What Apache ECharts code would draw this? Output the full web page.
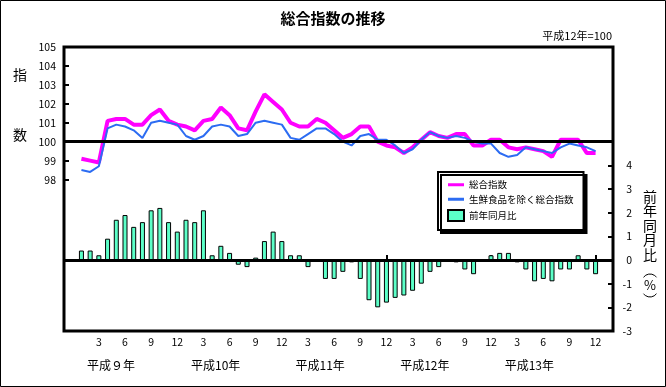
<!DOCTYPE html>
<html><head><meta charset="utf-8">
<script src="https://cdn.jsdelivr.net/npm/echarts@6/dist/echarts.min.js"></script>
<style>html,body{margin:0;padding:0;background:#fff}#c{width:666px;height:387px}</style>
</head><body><div id="c"></div>
<script>
// ---- data ----
const yearLabels = ['平成９年', '平成10年', '平成11年', '平成12年', '平成13年'];
const monthNums = [1, 2, 3, 4, 5, 6, 7, 8, 9, 10, 11, 12];
// 総合指数 (平成12年=100), 平成9年1月〜平成13年12月
const sogo = [
  99.1, 99.0, 98.9, 101.1, 101.2, 101.2, 100.9, 100.9, 101.4, 101.7, 101.1, 100.9,
  100.8, 100.6, 101.1, 101.2, 101.8, 101.4, 100.7, 100.6, 101.6, 102.5, 102.1, 101.7,
  101.0, 100.8, 100.8, 101.2, 101.0, 100.6, 100.2, 100.4, 100.8, 100.8, 100.0, 99.8,
  99.7, 99.4, 99.7, 100.1, 100.5, 100.3, 100.2, 100.4, 100.4, 99.8, 99.8, 100.1,
  100.1, 99.7, 99.6, 99.7, 99.6, 99.5, 99.2, 100.1, 100.1, 100.1, 99.4, 99.4
];
// 生鮮食品を除く総合指数
const exFresh = [
  98.5, 98.4, 98.7, 100.7, 100.9, 100.8, 100.6, 100.2, 101.0, 101.1, 101.0, 100.9,
  100.3, 100.1, 100.3, 100.8, 100.9, 100.8, 100.3, 100.4, 101.0, 101.1, 101.0, 100.9,
  100.2, 100.1, 100.4, 100.7, 100.7, 100.4, 100.0, 99.8, 100.3, 100.4, 100.1, 100.1,
  99.8, 99.4, 99.6, 100.1, 100.5, 100.3, 100.2, 100.3, 100.2, 100.0, 99.9, 99.9,
  99.4, 99.2, 99.3, 99.7, 99.6, 99.5, 99.4, 99.7, 99.9, 99.8, 99.7, 99.5
];
// 前年同月比 (%)
const yoy = [
  0.4, 0.4, 0.2, 0.9, 1.7, 1.9, 1.4, 1.6, 2.1, 2.2, 1.6, 1.2,
  1.7, 1.6, 2.1, 0.2, 0.6, 0.3, -0.2, -0.3, 0.1, 0.8, 1.2, 0.8,
  0.2, 0.2, -0.3, 0.0, -0.8, -0.8, -0.5, -0.1, -0.8, -1.7, -2.0, -1.8,
  -1.6, -1.5, -1.3, -1.0, -0.5, -0.3, 0.0, -0.1, -0.4, -0.6, 0.0, 0.2,
  0.3, 0.3, -0.1, -0.4, -0.9, -0.8, -0.9, -0.4, -0.4, 0.2, -0.4, -0.6
];
const leftTickValues = [98, 99, 100, 101, 102, 103, 104, 105];
const rightTickValues = [-3, -2, -1, 0, 1, 2, 3, 4];
const labelMonths = [3, 6, 9, 12];
const yearLabelMonth = 4;
const PAD = 2; // empty slots each side of the time axis

// ---- build category axis ----
const cats = [], catMonth = [], catYear = [];
for (let p = 0; p < PAD; p++) { cats.push('s' + p); catMonth.push(0); catYear.push(-1); }
yearLabels.forEach((y, yi) => monthNums.forEach(m => { cats.push(yi + '-' + m); catMonth.push(m); catYear.push(yi); }));
for (let p = 0; p < PAD; p++) { cats.push('e' + p); catMonth.push(0); catYear.push(-1); }
const padArr = arr => Array(PAD).fill(null).concat(arr, Array(PAD).fill(null));

const FONT = '"Noto Sans CJK JP", sans-serif';
const LINE_ICON = 'path://M0,0L16,0L16,3L0,3Z';
const chart = echarts.init(document.getElementById('c'), null, { renderer: 'canvas' });
chart.setOption({
  animation: false,
  backgroundColor: '#fff',
  title: {
    text: '総合指数の推移', left: 'center', top: 6,
    textStyle: { fontSize: 15, fontWeight: 'bold', color: '#000', fontFamily: FONT }
  },
  grid: { left: 64, right: 53, top: 47, bottom: 56, show: true, borderColor: '#000', borderWidth: 3, backgroundColor: 'transparent' },
  legend: {
    orient: 'vertical', left: 438, top: 172,
    itemWidth: 16, itemHeight: 11, itemGap: 5,
    padding: [8, 10, 8, 9],
    backgroundColor: '#fff', borderColor: '#000', borderWidth: 2,
    shadowColor: '#000', shadowOffsetX: 3, shadowOffsetY: 3, shadowBlur: 0,
    textStyle: { fontSize: 9.5, color: '#000', fontFamily: FONT },
    data: [
      { name: '総合指数', icon: LINE_ICON, itemStyle: { color: '#FF00FF' } },
      { name: '生鮮食品を除く総合指数', icon: LINE_ICON, itemStyle: { color: '#2C6CF2' } },
      { name: '前年同月比', icon: 'rect' }
    ]
  },
  xAxis: [{
    type: 'category', data: cats, boundaryGap: false, position: 'bottom',
    axisLine: { show: false },
    axisTick: {
      show: true, inside: true, length: 5, lineStyle: { color: '#000', width: 2 },
      interval: (i) => catMonth[i] === 12
    },
    axisLabel: {
      interval: (i) => labelMonths.indexOf(catMonth[i]) >= 0,
      formatter: (v, i) => String(catMonth[i]),
      margin: 6, fontSize: 10.5, color: '#000', fontFamily: FONT
    },
    splitLine: { show: false }
  }, {
    type: 'category', data: cats, boundaryGap: false, position: 'bottom',
    axisLine: { show: false }, axisTick: { show: false },
    axisLabel: {
      interval: (i) => catMonth[i] === yearLabelMonth,
      formatter: (v, i) => yearLabels[catYear[i]] || '',
      margin: 28, padding: [0, 0, 0, 7], fontSize: 12, color: '#000', fontFamily: FONT
    },
    splitLine: { show: false }
  }],
  yAxis: [{
    type: 'value', min: 90, max: 105, interval: 1, position: 'left',
    axisLine: { show: false },
    axisTick: { show: true, inside: true, length: 5, customValues: leftTickValues, lineStyle: { color: '#000', width: 2 } },
    axisLabel: { customValues: leftTickValues, margin: 8, fontSize: 10.5, color: '#000', fontFamily: FONT },
    splitLine: { show: false }
  }, {
    type: 'value', min: -3, max: 9, interval: 1, position: 'right',
    axisLine: { show: false },
    axisTick: { show: true, inside: true, length: 5, customValues: rightTickValues, lineStyle: { color: '#000', width: 2 } },
    axisLabel: { customValues: rightTickValues, margin: 19, align: 'right', fontSize: 10.5, color: '#000', fontFamily: FONT },
    splitLine: { show: false }
  }],
  series: [{
    name: '前年同月比', type: 'bar', xAxisIndex: 0, yAxisIndex: 1,
    data: padArr(yoy), barWidth: 5,
    itemStyle: { color: '#5CFFC8', borderColor: '#000', borderWidth: 1 },
    markLine: {
      silent: true, symbol: 'none', label: { show: false },
      lineStyle: { color: '#000', width: 3, type: 'solid' },
      data: [{ yAxis: 0 }]
    }
  }, {
    name: '総合指数', type: 'line', xAxisIndex: 0, yAxisIndex: 0,
    data: padArr(sogo), symbol: 'none', connectNulls: false,
    lineStyle: { color: '#FF00FF', width: 4 }, itemStyle: { color: '#FF00FF' }
  }, {
    name: '生鮮食品を除く総合指数', type: 'line', xAxisIndex: 0, yAxisIndex: 0,
    data: padArr(exFresh), symbol: 'none',
    lineStyle: { color: '#2C6CF2', width: 2 }, itemStyle: { color: '#2C6CF2' },
    markLine: {
      silent: true, symbol: 'none', label: { show: false },
      lineStyle: { color: '#000', width: 3, type: 'solid' },
      data: [{ yAxis: 100 }]
    }
  }],
  graphic: [
    { type: 'rect', shape: { x: 0.5, y: 0.5, width: 665, height: 386 }, style: { fill: 'none', stroke: '#000', lineWidth: 1 }, silent: true },
    { type: 'text', x: 612, y: 36, style: { text: '平成12年=100', font: '11px ' + FONT, fill: '#000', textAlign: 'right', textVerticalAlign: 'middle' } },
    { type: 'text', x: 20, y: 75, style: { text: '指', font: '14px ' + FONT, fill: '#000', textAlign: 'center', textVerticalAlign: 'middle' } },
    { type: 'text', x: 20, y: 135, style: { text: '数', font: '14px ' + FONT, fill: '#000', textAlign: 'center', textVerticalAlign: 'middle' } },
    { type: 'text', x: 650, y: 189, style: { text: '前\n年\n同\n月\n比', font: '14px ' + FONT, lineHeight: 14.5, fill: '#000', textAlign: 'center', textVerticalAlign: 'top' } },
    { type: 'arc', shape: { cx: 650, cy: 282, r: 8, startAngle: Math.PI * 1.2, endAngle: Math.PI * 1.8 }, style: { stroke: '#000', lineWidth: 1, fill: 'none' }, silent: true },
    { type: 'text', x: 650, y: 285.5, style: { text: '%', font: '13px ' + FONT, fill: '#000', textAlign: 'center', textVerticalAlign: 'middle' } },
    { type: 'arc', shape: { cx: 650, cy: 289, r: 8, startAngle: Math.PI * 0.2, endAngle: Math.PI * 0.8 }, style: { stroke: '#000', lineWidth: 1, fill: 'none' }, silent: true }
  ]
});
</script>
</body></html>
